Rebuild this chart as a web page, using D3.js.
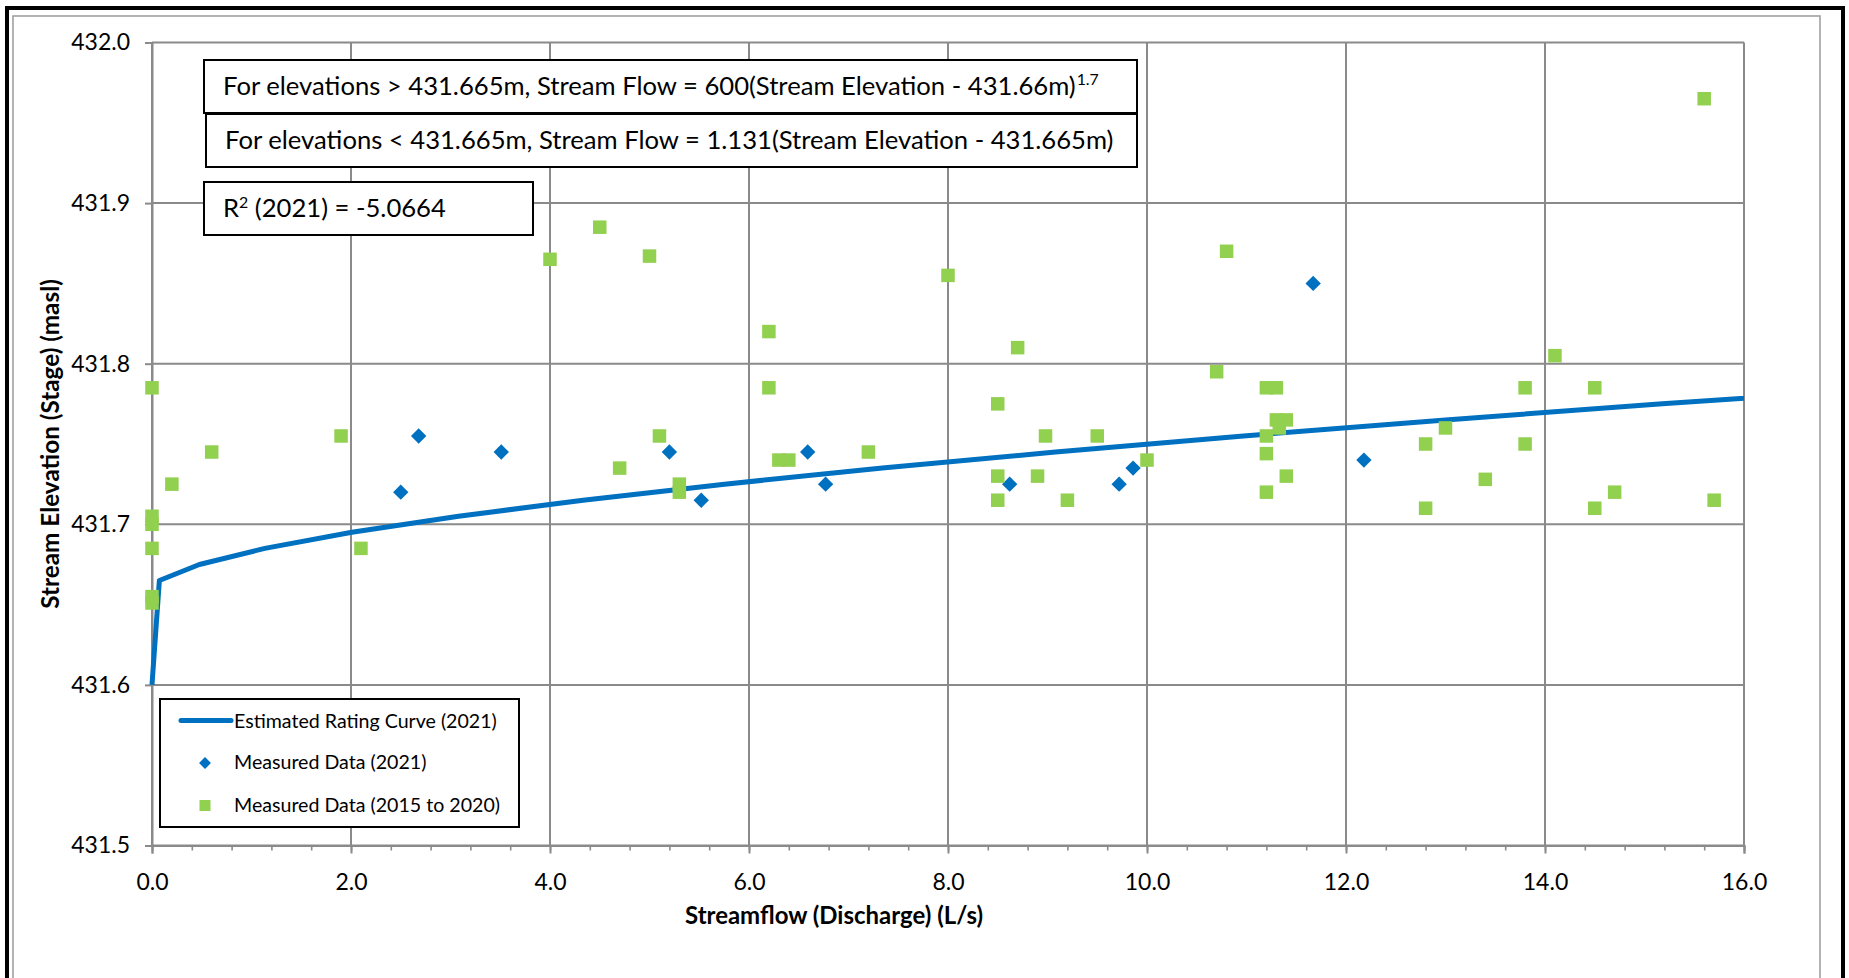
<!DOCTYPE html>
<html>
<head>
<meta charset="utf-8">
<script src="https://cdn.jsdelivr.net/npm/d3@7"></script>
<style>
  html, body { margin: 0; padding: 0; background: #fff; }
  svg { display: block; font-family: Lato, "Open Sans", "DejaVu Sans", sans-serif; }
</style>
</head>
<body>
<svg id="chart" width="1849" height="978"></svg>
<script>
// Estimated rating curve (2021): stage (masl) vs discharge (L/s)
const ratingElev = [431.600, 431.665, 431.675, 431.685, 431.695, 431.705, 431.715,
                    431.725, 431.735, 431.745, 431.755, 431.765, 431.775, 431.785];
const ratingFlow = [0.000, 0.074, 0.476, 1.134, 2.009, 3.081, 4.332,
                    5.754, 7.340, 9.080, 10.97, 13.00, 15.18, 17.49];

// Measured data (2021)
const flow2021 = [2.50, 2.68, 3.51, 5.20, 5.52, 6.59, 6.77, 8.62, 9.72, 9.86, 11.67, 12.18];
const elev2021 = [431.720, 431.755, 431.745, 431.745, 431.715, 431.745, 431.725,
                  431.725, 431.725, 431.735, 431.850, 431.740];

// Measured data (2015 to 2020)
const flowHist = [0.00, 0.00, 0.00, 0.00, 0.00, 0.00, 0.20, 0.60, 1.90, 2.10,
                  4.00, 4.50, 4.70, 5.00, 5.10, 5.30, 5.30, 6.20, 6.20, 6.30,
                  6.40, 7.20, 8.00, 8.50, 8.50, 8.50, 8.70, 8.90, 8.98, 9.20,
                  9.50, 10.00, 10.70, 10.80, 11.20, 11.30, 11.30, 11.40, 11.33, 11.20,
                  11.20, 11.40, 11.20, 12.80, 12.80, 13.00, 13.40, 13.80, 13.80, 14.10,
                  14.50, 14.50, 14.70, 15.60, 15.70];
const elevHist = [431.785, 431.705, 431.700, 431.685, 431.655, 431.651, 431.725, 431.745, 431.755, 431.685,
                  431.865, 431.885, 431.735, 431.867, 431.755, 431.725, 431.720, 431.820, 431.785, 431.740,
                  431.740, 431.745, 431.855, 431.775, 431.730, 431.715, 431.810, 431.730, 431.755, 431.715,
                  431.755, 431.740, 431.795, 431.870, 431.785, 431.785, 431.765, 431.765, 431.760, 431.755,
                  431.744, 431.730, 431.720, 431.750, 431.710, 431.760, 431.728, 431.785, 431.750, 431.805,
                  431.785, 431.710, 431.720, 431.965, 431.715];

// Axis ticks
const xMajorTicks = [0, 2, 4, 6, 8, 10, 12, 14, 16];
const xMinorTicks = d3.range(0, 16.0001, 0.4);
const yMajorTicks = [431.5, 431.6, 431.7, 431.8, 431.9, 432.0];

// Series labels and annotation texts
const seriesNames = ["Estimated Rating Curve (2021)", "Measured Data (2021)", "Measured Data (2015 to 2020)"];
const eqUpper = "For elevations > 431.665m, Stream Flow = 600(Stream Elevation - 431.66m)";
const eqUpperExp = "1.7";
const eqLower = "For elevations < 431.665m, Stream Flow = 1.131(Stream Elevation - 431.665m)";
const r2Label = ["R", "2", " (2021) = -5.0664"];

const BLUE = "#0070C0", GREEN = "#92D050", GRID = "#8a8a8a";

const svg = d3.select("#chart");

// Outer frames
svg.append("rect").attr("x", 7).attr("y", 8).attr("width", 1836).attr("height", 1000)
  .attr("fill", "none").attr("stroke", "#000").attr("stroke-width", 4);
svg.append("rect").attr("x", 13).attr("y", 16).attr("width", 1807).attr("height", 990)
  .attr("fill", "none").attr("stroke", "#a0a0a0").attr("stroke-width", 1.6);

const x = d3.scaleLinear().domain([0, 16]).range([152, 1744]);
const y = d3.scaleLinear().domain([431.5, 432.0]).range([845.5, 42.5]);

function fitWidth(sel, target) {
  const w = sel.node().getComputedTextLength();
  const fs = parseFloat(sel.attr("font-size"));
  sel.attr("font-size", fs * target / w);
  return fs * target / w;
}

const plot = svg.append("g");

// Gridlines
plot.append("g").selectAll("line").data(xMajorTicks).join("line")
  .attr("x1", d => x(d)).attr("x2", d => x(d))
  .attr("y1", y(432.0)).attr("y2", y(431.5))
  .attr("stroke", GRID).attr("stroke-width", 2);
plot.append("g").selectAll("line").data(yMajorTicks).join("line")
  .attr("x1", x(0)).attr("x2", x(16))
  .attr("y1", d => y(d)).attr("y2", d => y(d))
  .attr("stroke", GRID).attr("stroke-width", 2);

// X axis: minor and major ticks, labels
const xAxisMinor = d3.axisBottom(x).tickValues(xMinorTicks).tickSize(5).tickFormat("");
const gxm = svg.append("g").attr("transform", `translate(0,${y(431.5)})`).call(xAxisMinor);
gxm.select(".domain").remove();
gxm.selectAll(".tick line").attr("stroke", GRID).attr("stroke-width", 1.6);

const xAxis = d3.axisBottom(x).tickValues(xMajorTicks).tickSize(8).tickPadding(20).tickFormat(d3.format(".1f"));
const gx = svg.append("g").attr("transform", `translate(0,${y(431.5)})`).call(xAxis);
gx.select(".domain").attr("stroke", GRID).attr("stroke-width", 2);
gx.selectAll(".tick line").attr("stroke", GRID).attr("stroke-width", 2);
gx.selectAll(".tick text").attr("font-size", 23).attr("fill", "#000")
  .attr("font-family", "Lato, 'Open Sans', sans-serif");

// Y axis
const yAxis = d3.axisLeft(y).tickValues(yMajorTicks).tickSize(7).tickPadding(15).tickFormat(d3.format(".1f"));
const gy = svg.append("g").attr("transform", `translate(${x(0)},0)`).call(yAxis);
gy.select(".domain").attr("stroke", GRID).attr("stroke-width", 2);
gy.selectAll(".tick line").attr("stroke", GRID).attr("stroke-width", 2);
gy.selectAll(".tick text").attr("font-size", 23).attr("fill", "#000")
  .attr("font-family", "Lato, 'Open Sans', sans-serif");

// Axis titles
const xTitle = svg.append("text").attr("x", 834).attr("y", 924).attr("text-anchor", "middle")
  .attr("font-size", 22).attr("font-weight", "bold").text("Streamflow (Discharge) (L/s)");
fitWidth(xTitle, 298);
const yTitle = svg.append("text").attr("transform", "translate(59,444) rotate(-90)").attr("text-anchor", "middle")
  .attr("font-size", 22).attr("font-weight", "bold").text("Stream Elevation (Stage) (masl)");
fitWidth(yTitle, 330);

// Clip for the rating curve
svg.append("clipPath").attr("id", "lineClip").append("rect")
  .attr("x", x(0) - 5).attr("y", y(432.0)).attr("width", x(16) - x(0) + 5).attr("height", y(431.5) - y(432.0));

// Rating curve
const ratingPts = ratingFlow.map((q, i) => [q, ratingElev[i]]);
svg.append("path").datum(ratingPts)
  .attr("clip-path", "url(#lineClip)")
  .attr("fill", "none").attr("stroke", BLUE).attr("stroke-width", 5)
  .attr("stroke-linejoin", "round")
  .attr("d", d3.line().x(d => x(d[0])).y(d => y(d[1])));

// Measured 2021 (diamonds)
const diamond = d3.symbol().type(d3.symbolDiamond2).size(150);
svg.append("g").selectAll("path").data(flow2021.map((q, i) => [q, elev2021[i]])).join("path")
  .attr("transform", d => `translate(${x(d[0])},${y(d[1])})`)
  .attr("d", diamond).attr("fill", BLUE);

// Measured 2015-2020 (squares)
const S = 13.5;
svg.append("g").selectAll("rect").data(flowHist.map((q, i) => [q, elevHist[i]])).join("rect")
  .attr("x", d => x(d[0]) - S / 2).attr("y", d => y(d[1]) - S / 2)
  .attr("width", S).attr("height", S).attr("fill", GREEN);

// Equation boxes
function box(x0, y0, x1, y1) {
  svg.append("rect").attr("x", x0).attr("y", y0).attr("width", x1 - x0).attr("height", y1 - y0)
    .attr("fill", "#fff").attr("stroke", "#000").attr("stroke-width", 2);
}

box(204, 60, 1137, 113);
const t1 = svg.append("text").attr("x", 223).attr("y", 95).attr("font-size", 24).text(eqUpper);
const eqSize = fitWidth(t1, 853);
svg.append("text").attr("x", 223 + t1.node().getComputedTextLength() + 1).attr("y", 85)
  .attr("font-size", eqSize * 0.62).text(eqUpperExp);

box(206, 114, 1137, 167);
svg.append("text").attr("x", 225).attr("y", 149).attr("font-size", eqSize).text(eqLower);

box(204, 182, 533, 235);
const t3 = svg.append("text").attr("x", 223).attr("y", 217).attr("font-size", eqSize);
t3.append("tspan").text(r2Label[0]);
t3.append("tspan").attr("font-size", eqSize * 0.62).attr("dy", -9).text(r2Label[1]);
t3.append("tspan").attr("dy", 9).text(r2Label[2]);

// Legend
box(160, 699, 519, 827);
svg.append("line").attr("x1", 181).attr("x2", 231).attr("y1", 720.5).attr("y2", 720.5)
  .attr("stroke", BLUE).attr("stroke-width", 5).attr("stroke-linecap", "round");
svg.append("path").attr("transform", "translate(205,763)")
  .attr("d", d3.symbol().type(d3.symbolDiamond2).size(90)).attr("fill", BLUE);
svg.append("rect").attr("x", 199.5).attr("y", 800).attr("width", 11).attr("height", 11).attr("fill", GREEN);
const legY = [728, 769, 812];
const l0 = svg.append("text").attr("x", 234).attr("y", legY[0]).attr("font-size", 20).text(seriesNames[0]);
const legSize = fitWidth(l0, 263);
svg.append("text").attr("x", 234).attr("y", legY[1]).attr("font-size", legSize).text(seriesNames[1]);
svg.append("text").attr("x", 234).attr("y", legY[2]).attr("font-size", legSize).text(seriesNames[2]);
</script>
</body>
</html>
